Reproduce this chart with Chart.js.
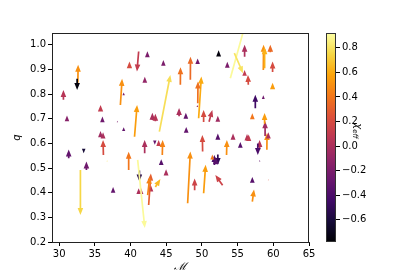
<!DOCTYPE html>
<html><head><meta charset="utf-8">
<script src="https://cdn.jsdelivr.net/npm/chart.js@4"></script>
<style>
html,body{margin:0;padding:0;background:#fff;width:415px;height:277px;overflow:hidden}
#wrap{position:relative;width:415px;height:277px}
canvas{position:absolute;left:0;top:0}
</style></head><body>
<div id="wrap"><canvas id="main" width="415" height="277"></canvas><canvas id="cbar" width="415" height="277"></canvas></div>
<script>
// Arrow tails (chirp mass, mass ratio), arrow heads, and effective spin colour values
const massTail = [30.6,32.62,32.52,31.1,35.8,36.06,38.16,39.04,38.58,40.56,39.85,41.14,42.36,44.6,42.0,39.04,44.04,48.38,46.98,49.4,52.34,49.54,49.42,46.8,47.75,49.36,50.24,51.0,52.23,43.06,43.48,47.8,50.1,53.98,54.54,55.98,53.56,55.98,56.5,58.6,58.78,59.58,59.9,59.9,57.48,58.6,57.06,58.85,58.78,59.1,59.3,35.8,36.15,36.2,31.34,33.44,33.82,32.98,36.72,37.56,39.74,41.98,43.4,43.94,44.45,44.3,44.98,41.24,41.14,41.48,42.85,42.54,42.4,41.0,43.48,48.0,50.24,51.74,52.23,51.95,51.46,52.9,48.98,53.45,54.36,55.38,56.32,56.55,52.23,58.08,57.83,58.1,57.06,59.3,57.06];
const qTail    = [0.777,0.846,0.862,0.69,0.729,0.686,0.686,0.65,0.756,0.627,0.905,0.973,0.95,0.915,0.846,0.795,0.648,0.858,0.838,0.922,0.953,0.702,0.763,0.71,0.7,0.748,0.687,0.688,0.688,0.695,0.69,0.643,0.567,0.864,0.966,0.952,0.907,0.875,0.838,0.898,0.905,0.97,0.89,0.82,0.743,0.78,0.698,0.63,0.68,0.574,0.62,0.625,0.62,0.553,0.54,0.578,0.492,0.492,0.527,0.4,0.492,0.56,0.612,0.59,0.553,0.512,0.47,0.49,0.395,0.395,0.405,0.35,0.39,0.533,0.423,0.357,0.398,0.512,0.555,0.515,0.535,0.43,0.41,0.553,0.615,0.582,0.612,0.61,0.615,0.575,0.6,0.527,0.44,0.451,0.364];
const massHead = [30.6,32.66,32.52,31.1,35.8,36.06,38.16,39.04,38.82,40.92,39.85,40.9,42.36,44.6,42.0,39.04,45.58,48.4,47.0,49.4,52.34,49.92,49.45,46.8,47.75,49.36,50.24,51.46,52.23,43.06,43.48,47.8,50.06,56.0,55.76,55.98,53.56,55.98,56.45,58.64,58.78,59.58,59.9,59.9,57.48,58.6,57.06,58.85,58.78,59.12,59.3,35.8,36.15,36.15,31.34,33.44,33.82,32.98,36.72,37.56,39.74,41.98,43.4,43.94,44.5,44.3,44.98,41.24,41.14,41.48,42.85,42.85,42.7,42.0,44.18,48.38,50.52,51.74,52.23,51.95,51.46,51.88,48.98,53.5,54.36,55.38,56.32,56.55,52.23,58.08,57.83,58.1,57.06,59.3,57.3];
const qHead    = [0.817,0.919,0.817,0.713,0.756,0.709,0.692,0.666,0.862,0.756,0.932,0.892,0.974,0.938,0.87,0.807,0.878,0.952,0.909,0.945,0.978,0.871,0.851,0.744,0.724,0.756,0.736,0.736,0.712,0.724,0.72,0.667,0.634,1.075,0.885,1.0,0.931,0.898,0.878,1.0,0.99,1.0,0.932,0.846,0.797,0.795,0.722,0.69,0.723,0.642,0.645,0.65,0.645,0.614,0.575,0.56,0.527,0.31,0.532,0.423,0.566,0.614,0.595,0.614,0.614,0.536,0.495,0.445,0.418,0.418,0.43,0.478,0.465,0.257,0.456,0.567,0.513,0.553,0.512,0.545,0.555,0.472,0.458,0.614,0.64,0.606,0.638,0.636,0.64,0.614,0.553,0.533,0.464,0.455,0.413];
const chiEff   = [0.05,0.5,-0.75,-0.15,0.1,-0.25,-0.2,-0.3,0.5,0.55,0.2,0.1,-0.2,-0.2,-0.1,-0.2,0.78,0.35,0.38,-0.25,-0.75,0.6,0.38,0.0,-0.3,-0.1,0.2,0.1,-0.05,0.0,0.05,-0.3,0.2,0.9,0.8,0.0,-0.2,0.1,0.2,0.5,0.62,0.35,0.2,0.55,-0.45,-0.25,0.4,-0.05,0.55,0.5,0.0,-0.05,0.0,0.2,-0.3,-0.62,-0.25,0.75,0.8,-0.3,0.4,0.0,-0.3,0.1,0.45,-0.35,0.0,-0.55,0.0,0.05,0.05,0.3,0.45,0.9,0.65,0.5,0.55,-0.4,-0.5,-0.35,0.4,0.15,0.15,0.5,0.0,-0.35,0.05,0.1,-0.35,0.05,-0.4,-0.3,-0.35,0.25,0.5];

const xTicks = [30,35,40,45,50,55,60,65];
const yTicks = [0.2,0.3,0.4,0.5,0.6,0.7,0.8,0.9,1.0];
const cbarTicks = [-0.6,-0.4,-0.2,0.0,0.2,0.4,0.6,0.8];
const chiMin = -0.78, chiMax = 0.92;

const infernoStops = ['#000004','#160b39','#420a68','#6a176e','#932667','#bc3754','#dd513a','#f37819','#fca50a','#f6d746','#fcffa4'];
function hex2rgb(h){return [parseInt(h.slice(1,3),16),parseInt(h.slice(3,5),16),parseInt(h.slice(5,7),16)];}
const stopsRGB = infernoStops.map(hex2rgb);
function inferno(v){
  let t=(v-chiMin)/(chiMax-chiMin); t=Math.max(0,Math.min(1,t));
  const f=t*(stopsRGB.length-1); const i=Math.min(Math.floor(f),stopsRGB.length-2); const r=f-i;
  const a=stopsRGB[i], b=stopsRGB[i+1];
  return 'rgb('+[0,1,2].map(k=>Math.round(a[k]+(b[k]-a[k])*r)).join(',')+')';
}

const datasets = massTail.map((m,i)=>({
  data:[{x:m,y:qTail[i]},{x:massHead[i],y:qHead[i]}],
  showLine:false, pointRadius:0, pointHoverRadius:0,
  backgroundColor:inferno(chiEff[i]), borderColor:inferno(chiEff[i])
}));

const arrowPlugin = {
  id:'arrows',
  afterDatasetsDraw(chart){
    const ctx=chart.ctx, a=chart.chartArea;
    ctx.save();
    ctx.beginPath(); ctx.rect(a.left,a.top,a.right-a.left,a.bottom-a.top); ctx.clip();
    chart.data.datasets.forEach((ds,i)=>{
      const m=chart.getDatasetMeta(i); const p0=m.data[0], p1=m.data[1];
      const dx=p1.x-p0.x, dy=p1.y-p0.y; const L=Math.hypot(dx,dy); if(L<0.01) return;
      const ux=dx/L, uy=dy/L, nx=-uy, ny=ux;
      let hl=7, hw=2.8; const sw=0.85;
      ctx.fillStyle=ds.backgroundColor;
      ctx.beginPath();
      if(L<=hl){
        const s=L/hl; hw*=s;
        ctx.moveTo(p1.x,p1.y);
        ctx.lineTo(p0.x+nx*hw,p0.y+ny*hw);
        ctx.lineTo(p0.x-nx*hw,p0.y-ny*hw);
      } else {
        const bx=p1.x-ux*hl, by=p1.y-uy*hl;
        ctx.moveTo(p0.x+nx*sw,p0.y+ny*sw);
        ctx.lineTo(bx+nx*sw,by+ny*sw);
        ctx.lineTo(bx+nx*hw,by+ny*hw);
        ctx.lineTo(p1.x,p1.y);
        ctx.lineTo(bx-nx*hw,by-ny*hw);
        ctx.lineTo(bx-nx*sw,by-ny*sw);
        ctx.lineTo(p0.x-nx*sw,p0.y-ny*sw);
      }
      ctx.closePath(); ctx.fill();
    });
    ctx.restore();
  }
};
const framePlugin = {
  id:'frame',
  afterDraw(chart){
    const ctx=chart.ctx, a=chart.chartArea;
    ctx.save(); ctx.strokeStyle='#222'; ctx.lineWidth=1;
    ctx.beginPath();
    ctx.moveTo(a.left,a.top+0.5); ctx.lineTo(a.right,a.top+0.5);
    ctx.moveTo(a.right-0.5,a.top); ctx.lineTo(a.right-0.5,a.bottom);
    ctx.stroke(); ctx.restore();
  }
};
const tickFont={size:10,family:'DejaVu Sans'};

new Chart(document.getElementById('main'),{
  type:'scatter',
  data:{datasets},
  options:{
    responsive:false, animation:false, devicePixelRatio:1,
    layout:{padding:{left:0,right:106,top:33,bottom:0}},
    plugins:{legend:{display:false},tooltip:{enabled:false}},
    scales:{
      x:{type:'linear',min:29,max:65,
        afterBuildTicks:s=>{s.ticks=xTicks.map(v=>({value:v}));},
        afterFit:s=>{s.height=35;},
        grid:{drawOnChartArea:false,drawTicks:true,tickLength:4,color:'#000',tickWidth:1},
        border:{display:true,color:'#222',width:1},
        ticks:{color:'#000',font:tickFont,padding:2,maxRotation:0,autoSkip:false,callback:v=>String(v)},
        title:{display:true,text:'ℳ',color:'#000',font:{size:11,family:'DejaVu Serif',style:'italic'},padding:{top:0,bottom:3}}
      },
      y:{type:'linear',min:0.2,max:1.048,
        afterBuildTicks:s=>{s.ticks=yTicks.map(v=>({value:v}));},
        afterFit:s=>{s.width=52;},
        grid:{drawOnChartArea:false,drawTicks:true,tickLength:4,color:'#000',tickWidth:1},
        border:{display:true,color:'#222',width:1},
        ticks:{color:'#000',font:tickFont,padding:2,autoSkip:false,callback:v=>Number(v).toFixed(1)},
        title:{display:true,text:'q',color:'#000',font:{size:10,family:'DejaVu Sans',style:'italic'},padding:{top:11,bottom:0}}
      }
    }
  },
  plugins:[arrowPlugin,framePlugin]
});

const cbarPlugin = {
  id:'cbarfill',
  beforeDatasetsDraw(chart){
    const ctx=chart.ctx, a=chart.chartArea, ys=chart.scales.y;
    ctx.save();
    for(let py=Math.floor(a.top); py<Math.ceil(a.bottom); py++){
      ctx.fillStyle=inferno(ys.getValueForPixel(py+0.5));
      ctx.fillRect(a.left,py,a.right-a.left,1);
    }
    ctx.strokeStyle='#333'; ctx.lineWidth=1;
    ctx.strokeRect(a.left+0.5,a.top+0.5,a.right-a.left-1,a.bottom-a.top-1);
    ctx.restore();
  },
  afterDraw(chart){
    const ctx=chart.ctx;
    ctx.save();
    ctx.translate(358,131); ctx.rotate(Math.PI/2);
    ctx.fillStyle='#000'; ctx.textBaseline='middle'; ctx.textAlign='left';
    ctx.font='italic 10px "DejaVu Sans"'; const w1=ctx.measureText('χ').width;
    ctx.font='italic 7px "DejaVu Sans"'; const w2=ctx.measureText('eff').width;
    const x0=-(w1+w2)/2;
    ctx.font='italic 10px "DejaVu Sans"'; ctx.fillText('χ',x0,0);
    ctx.font='italic 7px "DejaVu Sans"'; ctx.fillText('eff',x0+w1,3);
    ctx.restore();
  }
};

new Chart(document.getElementById('cbar'),{
  type:'scatter',
  data:{datasets:[]},
  options:{
    responsive:false, animation:false, devicePixelRatio:1,
    layout:{padding:{left:326,right:0,top:33,bottom:35}},
    plugins:{legend:{display:false},tooltip:{enabled:false}},
    scales:{
      x:{display:false,type:'linear',min:0,max:1},
      y:{position:'right',type:'linear',min:chiMin,max:chiMax,
        afterBuildTicks:s=>{s.ticks=cbarTicks.map(v=>({value:v}));},
        afterFit:s=>{s.width=79;},
        grid:{drawOnChartArea:false,drawTicks:true,tickLength:4,color:'#000',tickWidth:1},
        border:{display:false},
        ticks:{color:'#000',font:tickFont,padding:2,autoSkip:false,
          callback:v=>{const s=Math.abs(v).toFixed(1); return (v< -1e-9?'\u2212':'')+s;}}
      }
    }
  },
  plugins:[cbarPlugin]
});
</script>
</body></html>
